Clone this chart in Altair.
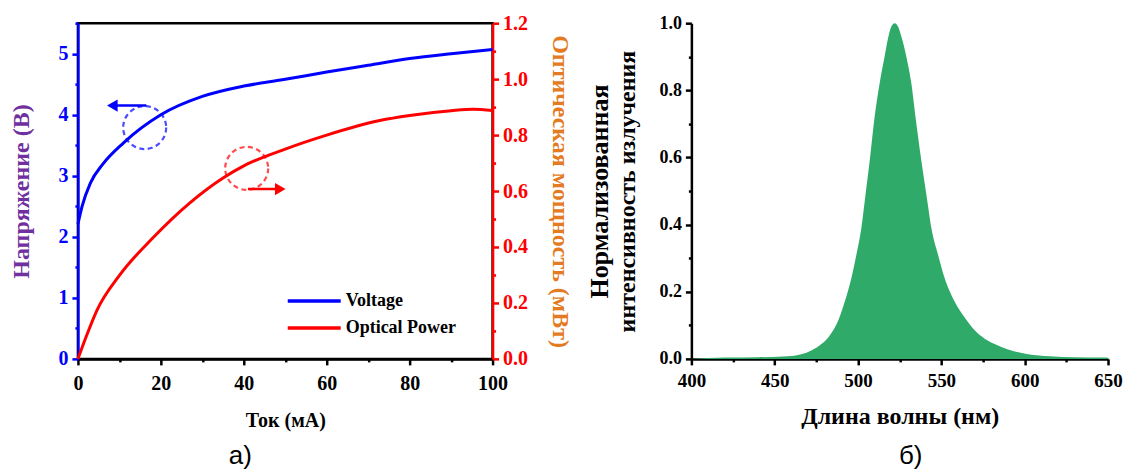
import altair as alt
import pandas as pd

# ---------------- data ----------------
current_ma = [0, 1, 3, 6, 11, 20, 30, 40, 50, 60, 70, 80, 90, 100]
voltage_v = [2.21, 2.5, 2.88, 3.19, 3.54, 4.0, 4.3, 4.47, 4.58, 4.70, 4.81, 4.92, 5.0, 5.07]

power_current_ma = [0, 2, 4.5, 10.1, 18.1, 27, 35, 40, 50, 60, 72.8, 80, 90, 95.3, 100]
power_mw = [0, 0.08, 0.171, 0.30, 0.433, 0.558, 0.647, 0.69, 0.75, 0.80, 0.852, 0.87, 0.887, 0.892, 0.888]

wavelength_nm = [400, 420, 440, 455, 466, 472, 478, 483, 488, 492, 496, 499, 502, 504.5, 507,
                 510, 513, 516, 518, 520, 522, 524, 526, 529, 532, 534.5, 538, 541,
                 544, 548, 552, 558, 564, 570, 576, 582, 590, 602, 615, 630, 648, 650]
intensity = [0.0, 0.004, 0.005, 0.007, 0.014, 0.025, 0.044, 0.07, 0.113, 0.17, 0.24, 0.31, 0.39, 0.49, 0.59,
             0.723, 0.822, 0.902, 0.955, 0.99, 1.0, 0.99, 0.96, 0.90, 0.82, 0.72, 0.59, 0.49,
             0.39, 0.31, 0.24, 0.17, 0.123, 0.085, 0.06, 0.044, 0.028, 0.014, 0.008, 0.005, 0.004, 0.003]

series_names = ["Voltage", "Optical Power"]
series_colors = ["#0000FF", "#FF0000"]

# tick values (major with labels, minor without)
cur_major, cur_minor = [0, 20, 40, 60, 80, 100], [10, 30, 50, 70, 90]
volt_major, volt_minor = [0, 1, 2, 3, 4, 5], [0.5, 1.5, 2.5, 3.5, 4.5, 5.5]
pow_major, pow_minor = [0.0, 0.2, 0.4, 0.6, 0.8, 1.0, 1.2], [0.1, 0.3, 0.5, 0.7, 0.9, 1.1]
wl_major, wl_minor = [400, 450, 500, 550, 600, 650], [425, 475, 525, 575, 625]
int_major, int_minor = [0.0, 0.2, 0.4, 0.6, 0.8, 1.0], [0.1, 0.3, 0.5, 0.7, 0.9]

# annotation marks (dashed circles + arrows), data units
blue_circle_x, blue_circle_y = [16.1], [3.79]
blue_arrow_x, blue_arrow_x2, blue_arrow_y = [16.5], [8.5], [4.15]
blue_head_x = [8.3]
red_circle_x, red_circle_y = [40.7], [0.681]
red_arrow_x, red_arrow_x2, red_arrow_y = [41.0], [48.5], [0.607]
red_head_x = [48.8]

FONT = "Liberation Serif, Times New Roman, serif"
SANS = "Liberation Sans, Arial, sans-serif"
BLUE, RED, BLACK = "#0000FF", "#FF0000", "#000000"
PURPLE, ORANGE, GREEN = "#7030A0", "#E47A22", "#2FAA68"

df_v = pd.DataFrame({"current": current_ma, "value": voltage_v, "series": series_names[0]})
df_p = pd.DataFrame({"current": power_current_ma, "value": power_mw, "series": series_names[1]})
df_s = pd.DataFrame({"wl": wavelength_nm, "I": intensity})


def major_axis(orient, values, fmt, color, title, title_color, title_size=24, label_size=20,
               title_padding=10, label_padding=4, **kw):
    return alt.Axis(
        orient=orient, values=values, format=fmt, title=title, grid=False,
        domainColor=color, domainWidth=2.5, tickColor=color, tickWidth=2.5, tickSize=6,
        labelColor=color, labelFont=FONT, labelFontWeight="bold", labelFontSize=label_size,
        labelPadding=label_padding, labelOverlap=False, labelFlush=False,
        titleFont=FONT, titleFontWeight="bold", titleFontSize=title_size, titleColor=title_color,
        titlePadding=title_padding, **kw)


def minor_axis(orient, values, color, title=None, **kw):
    return alt.Axis(orient=orient, values=values, title=title, grid=False, labels=False,
                    domain=False, tickColor=color, tickWidth=2.5, tickSize=3, **kw)


x_scale = alt.Scale(domain=[0, 100], nice=False)
v_scale = alt.Scale(domain=[0, 5.5], nice=False)
p_scale = alt.Scale(domain=[0, 1.2], nice=False)
color_scale = alt.Scale(domain=series_names, range=series_colors)

v_line = alt.Chart(df_v).mark_line(strokeWidth=3, interpolate="monotone").encode(
    x=alt.X("current:Q", scale=x_scale,
            axis=major_axis("bottom", cur_major, "d", BLACK, "Ток (мА)", BLACK,
                            title_size=20, label_padding=9, title_padding=17)),
    y=alt.Y("value:Q", scale=v_scale,
            axis=major_axis("left", volt_major, "d", BLUE, "Напряжение (В)", PURPLE, title_padding=24)),
    color=alt.Color("series:N", scale=color_scale, legend=alt.Legend(
        title=None, orient="none", legendX=208, legendY=269, direction="vertical",
        symbolType="stroke", symbolSize=2809, symbolStrokeWidth=3.5, padding=0, clipHeight=18,
        labelFont=FONT, labelFontWeight="bold", labelFontSize=18, labelColor=BLACK,
        rowPadding=9, labelOffset=3)),
)
v_minor = alt.Chart(df_v).mark_line(opacity=0).encode(
    x=alt.X("current:Q", scale=x_scale, axis=minor_axis("bottom", cur_minor, BLACK)),
    y=alt.Y("value:Q", scale=v_scale, axis=minor_axis("left", volt_minor, BLUE)),
)

p_line = alt.Chart(df_p).mark_line(strokeWidth=3, interpolate="monotone").encode(
    x=alt.X("current:Q", scale=x_scale, axis=None),
    y=alt.Y("value:Q", scale=p_scale,
            axis=major_axis("right", pow_major, ".1f", RED, "Оптическая мощность (мВт)", ORANGE,
                            title_padding=20)),
    color=alt.Color("series:N", scale=color_scale, legend=None),
)
p_minor = alt.Chart(df_p).mark_line(opacity=0).encode(
    x=alt.X("current:Q", scale=x_scale, axis=None),
    y=alt.Y("value:Q", scale=p_scale, axis=minor_axis("right", pow_minor, RED)),
)


def circle_layer(xs, ys, color, yscale):
    d = pd.DataFrame({"x": xs, "y": ys})
    return alt.Chart(d).mark_point(shape="circle", filled=False, size=1850, strokeWidth=2.2,
                                   strokeDash=[5, 3.5], color=color).encode(
        x=alt.X("x:Q", scale=x_scale, axis=None), y=alt.Y("y:Q", scale=yscale, axis=None))


def arrow_layers(x1, x2, ys, hx, color, yscale, shape):
    d = pd.DataFrame({"x": x1, "x2": x2, "y": ys})
    rule = alt.Chart(d).mark_rule(strokeWidth=2.5, color=color).encode(
        x=alt.X("x:Q", scale=x_scale, axis=None), x2="x2:Q",
        y=alt.Y("y:Q", scale=yscale, axis=None))
    dh = pd.DataFrame({"x": hx, "y": ys})
    head = alt.Chart(dh).mark_point(shape=shape, filled=True, size=150, color=color, opacity=1).encode(
        x=alt.X("x:Q", scale=x_scale, axis=None), y=alt.Y("y:Q", scale=yscale, axis=None))
    return [rule, head]


v_group = alt.layer(
    v_minor, v_line, circle_layer(blue_circle_x, blue_circle_y, BLUE, v_scale),
    *arrow_layers(blue_arrow_x, blue_arrow_x2, blue_arrow_y, blue_head_x, BLUE, v_scale, "triangle-left"),
).resolve_axis(x="independent", y="independent")
p_group = alt.layer(
    p_minor, p_line, circle_layer(red_circle_x, red_circle_y, RED, p_scale),
    *arrow_layers(red_arrow_x, red_arrow_x2, red_arrow_y, red_head_x, RED, p_scale, "triangle-right"),
).resolve_axis(y="independent")

left = alt.layer(v_group, p_group).resolve_scale(y="independent").properties(
    width=415, height=336,
    view=alt.ViewBackground(stroke=BLACK, strokeWidth=2.5),
    title=alt.TitleParams("а)", orient="bottom", font=SANS, fontSize=26,
                          fontWeight="normal", color=BLACK, offset=12, dx=-45, anchor="middle"),
)

wl_scale = alt.Scale(domain=[400, 650], nice=False)
int_scale = alt.Scale(domain=[0, 1.0], nice=False)

# minor y axis carries the second line of the y title, major axis the first line
s_minor = alt.Chart(df_s).mark_line(opacity=0).encode(
    x=alt.X("wl:Q", scale=wl_scale, axis=minor_axis("bottom", wl_minor, BLACK)),
    y=alt.Y("I:Q", scale=int_scale,
            axis=minor_axis("left", int_minor, BLACK, title="интенсивность излучения",
                            titleFont=FONT, titleFontWeight="bold", titleFontSize=24,
                            titleColor=BLACK, titlePadding=48)),
)
s_area = alt.Chart(df_s).mark_area(color=GREEN, interpolate="monotone").encode(
    x=alt.X("wl:Q", scale=wl_scale,
            axis=major_axis("bottom", wl_major, "d", BLACK, "Длина волны (нм)", BLACK,
                            title_size=24, label_size=19, label_padding=7, title_padding=14)),
    y=alt.Y("I:Q", scale=int_scale,
            axis=major_axis("left", int_major, ".1f", BLACK, "Нормализованная", BLACK,
                            title_size=26, label_size=18, title_padding=46)),
)

right = alt.layer(s_minor, s_area).resolve_axis(x="independent", y="independent").properties(
    width=417, height=336,
    title=alt.TitleParams("б)", orient="bottom", font=SANS, fontSize=26,
                          fontWeight="normal", color=BLACK, offset=14, dx=11, anchor="middle"),
)

chart = alt.hconcat(left, right, spacing=13).configure(
    padding={"left": 8, "top": 11, "right": 5, "bottom": 5},
    background="white",
).configure_view(stroke="transparent")

chart.save("out.html", embed_options={"renderer": "svg", "actions": False})
